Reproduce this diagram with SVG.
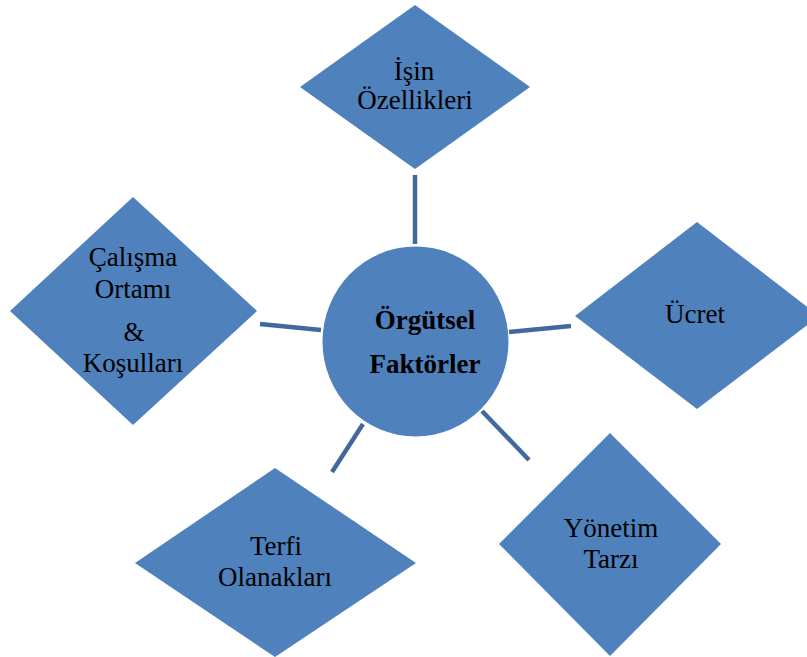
<svg xmlns="http://www.w3.org/2000/svg" width="807" height="657" viewBox="0 0 807 657">
<style>
.shape{fill:#4F81BD;}
.lbl{font-size:27px;fill:#000;text-anchor:middle;}
.ctr{font-size:27px;font-weight:bold;fill:#000;text-anchor:middle;}
.conn{stroke:#42699E;stroke-width:4.5;stroke-linecap:butt;fill:none;}
</style>
<rect width="807" height="657" fill="#FFFFFF"/>
<g id="connectors">
<line class="conn" x1="415" y1="175" x2="415" y2="244"/>
<line class="conn" x1="260" y1="324" x2="321" y2="330"/>
<line class="conn" x1="509" y1="332" x2="571" y2="326"/>
<line class="conn" x1="363" y1="424" x2="332" y2="472"/>
<line class="conn" x1="482" y1="411" x2="529" y2="460"/>
</g>
<g font-family="Liberation Serif, DejaVu Serif, serif">
<g id="center">
<ellipse class="shape" cx="415.5" cy="341.5" rx="93" ry="95"/>
<text class="ctr" x="425" y="329">Örgütsel</text>
<text class="ctr" x="425" y="373">Faktörler</text>
</g>
<g id="isin-ozellikleri">
<polygon class="shape" points="415,5 530,87 415,169 300,87"/>
<text class="lbl" x="414" y="80">İşin</text>
<text class="lbl" x="415" y="109">Özellikleri</text>
</g>
<g id="calisma-ortami">
<polygon class="shape" points="133,197 257,311 133,425 10,311"/>
<text class="lbl" x="133" y="266">Çalışma</text>
<text class="lbl" x="133" y="298">Ortamı</text>
<text class="lbl" x="134" y="341">&amp;</text>
<text class="lbl" x="133" y="372">Koşulları</text>
</g>
<g id="ucret">
<polygon class="shape" points="697,222 819,316 697,409 575,316"/>
<text class="lbl" x="695" y="323">Ücret</text>
</g>
<g id="terfi-olanaklari">
<polygon class="shape" points="275,468 416,563 275,657 135,563"/>
<text class="lbl" x="276" y="555">Terfi</text>
<text class="lbl" x="275" y="586">Olanakları</text>
</g>
<g id="yonetim-tarzi">
<polygon class="shape" points="610,433 721,544 610,656 499,544"/>
<text class="lbl" x="611" y="537">Yönetim</text>
<text class="lbl" x="611" y="568">Tarzı</text>
</g>
</g>
</svg>
